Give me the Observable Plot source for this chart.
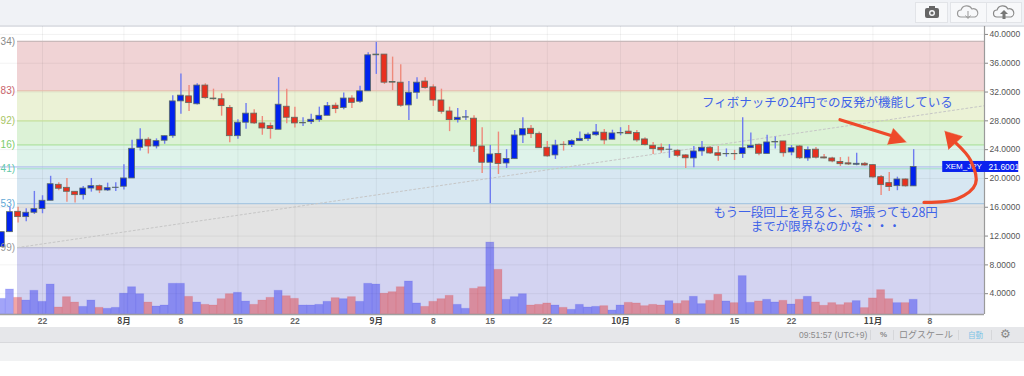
<!DOCTYPE html>
<html><head><meta charset="utf-8">
<script src="https://cdn.jsdelivr.net/npm/d3@7"></script>
<script src="https://cdn.jsdelivr.net/npm/@observablehq/plot@0.6"></script>
<style>
html,body{margin:0;padding:0;background:#fff;}
#page{position:relative;width:1024px;height:376px;overflow:hidden;background:#fff;font-family:"Liberation Sans",sans-serif;}
#page>div{position:absolute;}
#chart{left:0;top:0;}
#chart svg{display:block;background:transparent;}
.btn{top:2px;height:19px;background:#f7f8fa;border:1px solid #e2e4e8;box-sizing:content-box;}
.st{top:329px;font-size:8.5px;line-height:12px;color:#8a8a8a;white-space:nowrap;}
.sep{top:330px;width:1px;height:10px;background:#d6d7da;}
</style></head>
<body><div id="page">
<div style="left:0;top:0;width:1024px;height:25px;background:#f0f2f6"></div>
<div style="left:0;top:25px;width:1024px;height:2px;background:#dfe1e6"></div>
<div style="left:0;top:327px;width:1024px;height:15px;background:#e6e7ea;border-bottom:1px solid #d8d9dc"></div>
<div style="left:0;top:343px;width:1024px;height:18px;background:#f1f2f3"></div>
<div class="btn" style="left:915px;width:31px"><svg width="31" height="19"><rect x="9" y="5" width="14" height="10" rx="2" fill="#666"/><rect x="13" y="3" width="6" height="3" fill="#666"/><circle cx="16" cy="10" r="3" fill="#f7f8fa"/><circle cx="16" cy="10" r="1.6" fill="#666"/></svg></div>
<div class="btn" style="left:950px;width:35px"><svg width="35" height="19"><path d="M10 14a3.5 3.5 0 0 1 0-7a6 6 0 0 1 11-1a4 4 0 0 1 3 8z" fill="none" stroke="#999" stroke-width="1.2"/><path d="M17 8v7m-2.5-2.5l2.5 3l2.5-3" fill="none" stroke="#999"/></svg></div>
<div class="btn" style="left:986px;width:34px"><svg width="34" height="19"><path d="M10 14a3.5 3.5 0 0 1 0-7a6 6 0 0 1 11-1a4 4 0 0 1 3 8z" fill="none" stroke="#888" stroke-width="1.2"/><path d="M17 7l-4 4h2.5v5h3v-5h2.5z" fill="#777"/></svg></div>
<div id="chart"></div>
<div class="st" style="left:799px;">09:51:57 (UTC+9)</div>
<div class="sep" style="left:870px"></div>
<div class="st" style="left:880px;font-size:8px;font-weight:bold">%</div>
<div class="sep" style="left:893px"></div>
<div class="st" style="left:894px;width:64px;text-align:center;font-size:9px;font-family:'Noto Sans CJK JP';">ログスケール</div>
<div class="sep" style="left:958px"></div>
<div class="st" style="left:968px;font-size:7.5px;color:#7cc4e6;font-family:'Noto Sans CJK JP';">自動</div>
<div class="sep" style="left:991px"></div>
<div class="st" style="left:1000px;top:328px;font-size:12px;font-family:'DejaVu Sans';color:#888">⚙</div>
</div>
<script>
const firstDay = -5; // days counted from 22 Jul
const opens = [10.46,12.54,15.37,14.63,15.24,15.74,16.9,19.12,18.7,18.15,17.68,18.6,18.93,18.33,18.68,18.85,20.0,24.26,25.38,24.44,25.24,25.87,30.7,31.4,30.3,32.9,31.1,31.0,29.8,25.87,27.74,29.0,27.64,27.27,26.76,29.96,28.43,27.65,27.82,28.1,28.7,30.1,29.77,31.1,30.65,32.1,37.1,37.2,33.4,33.3,30.14,31.9,33.45,32.65,30.83,29.3,28.1,28.45,28.3,24.44,22.18,23.4,22.08,22.68,25.97,26.9,26.2,24.27,23.2,24.68,24.63,25.18,25.46,26.0,26.35,25.38,26.25,26.5,26.3,25.42,24.54,24.26,23.98,23.85,23.2,22.78,23.75,24.26,23.5,23.36,23.4,23.38,24.2,24.68,23.4,25.0,25.14,23.6,24.44,22.78,24,22.92,22.78,22.3,22.1,21.9,22.04,21.85,20.18,19.35,18.93,19.86,18.9];
const closes = [12.54,15.32,14.63,15.24,15.74,16.9,19.2,18.57,18.15,17.68,18.6,18.93,18.33,18.65,18.72,20.0,24.12,25.38,24.44,25.18,25.87,30.7,31.5,30.46,32.9,31.15,31.0,30.04,25.87,27.74,29.0,27.64,26.94,26.85,30.24,28.43,27.64,27.7,28.15,28.7,30.04,29.63,31.1,30.5,32.1,37.1,37.2,33.3,33.3,30.1,31.9,33.3,32.55,30.83,29.26,28.1,28.43,28.5,24.44,22.18,23.33,22.0,22.7,25.97,26.85,26.15,24.2,23.06,24.58,24.65,25.18,25.5,26.07,26.4,25.28,26.25,26.3,26.15,25.28,24.63,24.07,23.9,24.0,23.15,22.8,23.75,24.26,23.47,23.15,23.4,23.36,24.2,24.54,23.43,25.0,25.05,23.5,24.2,22.8,23.94,22.88,22.78,22.36,21.98,21.94,22.04,21.8,20.14,19.07,18.8,19.86,18.9,21.6];
const highs = [12.54,16.0,16.0,15.8,18.2,17.6,20.3,19.4,20.0,18.2,18.9,20.0,19.1,19.35,19.4,21.9,25.3,26.9,25.65,25.5,25.9,31.5,34.5,32.9,33.15,33.15,32.4,31.75,30.14,28.15,30.4,29.55,28.6,27.7,34.0,32.4,29.9,28.43,28.93,29.9,30.55,30.46,31.85,31.5,32.8,37.45,38.9,37.2,36.85,35.8,33.45,34.0,34.0,33.0,32.4,29.9,29.7,29.45,28.7,27.05,24.6,26.44,24.0,26.67,28.43,27.35,26.44,25.14,25.3,25.1,25.38,26.44,26.3,27.5,26.8,26.7,27.05,27.35,26.67,25.65,25.0,24.8,24.7,24.0,23.3,24.44,25.14,24.44,24.44,24.1,23.9,28.43,26.3,24.8,26.0,25.74,25.14,24.58,24.58,24.36,24.3,23.33,22.96,22.9,22.96,23.5,22.2,21.9,20.4,20.83,20.18,19.95,24.0];
const lows = [10.46,12.5,13.8,14.0,15.0,15.1,16.9,18.3,16.7,16.6,17.0,18.1,17.9,18.2,18.2,18.4,20.0,23.8,23.4,24.1,24.75,25.6,28.9,29.3,30.2,31.0,30.8,28.65,24.96,25.46,26.85,27.5,26.0,25.46,26.76,27.6,27.0,27.2,27.5,27.8,28.7,29.0,29.55,29.7,30.45,32.1,34.45,33.05,32.2,29.9,28.05,31.0,32.4,30.0,28.93,26.5,27.7,28.05,23.6,20.7,16.5,20.55,21.4,22.68,24.86,25.56,24.2,22.96,22.64,23.8,24.3,25.14,25.14,25.87,24.68,25.38,25.93,26.15,25.04,24.5,23.33,23.5,22.8,22.9,21.4,21.5,23.1,23.33,22.4,22.96,22.5,22.78,24.2,23.15,23.4,24.1,22.96,23.15,22.64,22.4,22.7,22.7,22.18,21.67,21.8,21.76,21.7,20.04,17.64,18.2,18.3,18.8,18.9];
const volumes = [3.28,4.58,3.42,3.05,4.4,2.87,5.27,2.08,3.52,2.77,2.17,3.05,2.03,1.9,2.03,4.0,4.9,3.93,2.77,2.22,2.36,5.37,5.37,3.56,2.77,2.45,2.36,3.24,3.93,4.12,2.91,2.45,3.05,3.42,4.4,3.65,3.28,2.36,2.36,2.45,2.87,3.38,3.24,3.52,2.87,5.37,5.27,4.0,4.21,4.9,5.69,2.64,2.17,2.87,3.24,3.7,2.45,1.9,4.67,4.9,11.1,7.31,3.15,3.52,3.93,2.36,2.45,2.64,2.36,2.03,1.76,2.45,2.08,2.17,2.27,1.66,2.36,2.73,2.64,2.27,2.45,2.36,2.96,2.59,2.97,3.57,2.55,3.01,3.85,2.92,2.69,6.44,2.73,2.92,3.15,2.78,3.01,2.5,3.15,3.57,2.78,2.32,2.69,2.41,2.69,2.97,2.0,3.34,4.49,3.24,2.69,2.69,3.15];
const tickDays = [0,17,24,31,48,55,62,78,85,92,109];
const tickLabels = ["22","8","15","22","8","15","22","8","15","22","8"];
const monthDays = [10,41,71,102];
const monthLabels = ["8月","9月","10月","11月"];
const priceTicks = [4,8,12,16,20,24,28,32,36,40];
const fibLevels = [39.03,32.18,28.0,24.65,21.35,16.5,10.38,1.11];
const fibFills = ["#f0d3d5","#ebf2d6","#dcf2d6","#def3ea","#d7e7f2","#e3e3e3","#d3d3f1"];
const fibLines = ["#c9b9ba","#e6b5a8","#c8e29c","#aee29c","#a2e0c8","#a9c8e2","#b4b4cc"];
const fibNames = ["34)","83)","92)","16)","41)","53)","99)"];
const fibNameColors = ["#8a8a8a","#c9636b","#a8c664","#7ccb6b","#63c9a9","#5fa8d6","#999999"];
const fibStart = -3.07, xMin = -5.16, xMax = 115.7, yMin = 1.11, yMax = 41.1;
const lastPrice = 21.6;
const trendDays = [-3.07,115.7], trendValues = [10.4,30.1];
const arrow1Days = [97.95,104.6], arrow1Values = [28.15,25.83];
const head1Days = [106.1,104.5,103.8], head1Values = [25.04,26.94,24.72];
const arrow2Days = [108.27,112.37,114.6,114,112.2], arrow2Values = [16.67,17.18,19.26,22.5,24.9];
const head2Days = [110.8,113,111.27], head2Values = [26.57,25.83,24.03];
const notes = ["フィボナッチの24円での反発が機能している","もう一段回上を見ると、頑張っても28円\nまでが限界なのかな・・・"];
const noteDays = [96.4,96.2], noteValues = [30.6,14.28];

const BLUE="#0022ee", RED="#e8301f", ARROW="#ee4a2a";
const candles = opens.map((o,i)=>({d:firstDay+i,o,c:closes[i],h:highs[i],l:lows[i],v:volumes[i],up:closes[i]>=opens[i]}));
const zones = fibFills.map((f,i)=>({top:fibLevels[i],bot:fibLevels[i+1],fill:f,line:fibLines[i],name:fibNames[i],nc:fibNameColors[i]}));
const pts=(a,b)=>a.map((x,i)=>({x,y:b[i]}));
const jp='"Noto Sans CJK JP",sans-serif';
const chart = Plot.plot({
  width:1024,height:376,marginLeft:0,marginRight:40,marginTop:26,marginBottom:62,
  style:{background:"transparent",fontFamily:"Liberation Sans, sans-serif",overflow:"visible"},
  x:{domain:[xMin,xMax],axis:null},
  y:{domain:[yMin,yMax],axis:null},
  marks:[
    Plot.rect(zones,{x1:()=>fibStart,x2:()=>xMax,y1:"bot",y2:"top",fill:d=>d.fill}),
    Plot.gridX([...tickDays,...monthDays],{stroke:"#000",strokeOpacity:0.05}),
    Plot.gridY(priceTicks,{stroke:"#000",strokeOpacity:0.05}),
    Plot.ruleY(zones,{x1:()=>fibStart,x2:()=>xMax,y:"top",stroke:d=>d.line,strokeWidth:1.2}),
    Plot.ruleY([lastPrice],{x1:xMin,x2:xMax,stroke:"#a9b4ee",strokeWidth:1}),
    Plot.rect(candles,{x1:d=>d.d-0.49,x2:d=>d.d+0.49,y1:()=>yMin,y2:"v",fill:d=>d.up?"#2226ee":"#e02a2a",fillOpacity:0.42,stroke:d=>d.up?"#2226ee":"#e02a2a",strokeOpacity:0.12}),
    Plot.line(pts(trendDays,trendValues),{x:"x",y:"y",stroke:"#c6c6c6",strokeDasharray:"2,2.5",strokeWidth:1}),
    Plot.ruleX(candles,{x:"d",y1:"l",y2:"h",stroke:d=>d.up?"#6f7cf0":"#ee8a7c",strokeWidth:1.4}),
    Plot.rect(candles,{x1:d=>d.d-0.36,x2:d=>d.d+0.36,y1:"o",y2:"c",fill:d=>d.up?BLUE:RED,stroke:"#5d6b63",strokeWidth:0.8}),
    Plot.text(zones,{x:()=>fibStart-0.3,y:"top",text:"name",fill:d=>d.nc,textAnchor:"end",fontSize:10}),
    Plot.ruleX([xMax],{stroke:"#9a9a9a",strokeWidth:1.2}),
    Plot.ruleY([yMin],{stroke:"#a0a0a0",strokeWidth:1.6}),
    Plot.axisY({ticks:priceTicks,anchor:"right",tickSize:3,tickPadding:2,tickFormat:d=>d.toFixed(4),fontSize:8.5,color:"#555",stroke:"#888"}),
    Plot.axisX({ticks:tickDays,tickFormat:d=>tickLabels[tickDays.indexOf(d)],anchor:"bottom",tickSize:0,tickPadding:3,fontSize:8.5,color:"#666",fontWeight:"bold",label:null}),
    Plot.axisX({ticks:monthDays,tickFormat:d=>monthLabels[monthDays.indexOf(d)],anchor:"bottom",tickSize:0,tickPadding:3,fontSize:8.5,color:"#444",fontWeight:"bold",label:null,fontFamily:jp}),
    Plot.rect([0],{x1:()=>110.57,x2:()=>119.9,y1:()=>20.83,y2:()=>22.36,fill:"#0a22ee",clip:false}),
    Plot.text(["XEM_JPY"],{x:()=>110.9,y:()=>lastPrice,text:d=>d,textAnchor:"start",fill:"#fff",fontSize:8}),
    Plot.text([lastPrice],{x:()=>116.2,y:()=>lastPrice,text:()=>"21.6001",textAnchor:"start",fill:"#fff",fontSize:8.5}),
    Plot.text(notes,{x:(d,i)=>noteDays[i],y:(d,i)=>noteValues[i],text:d=>d,fill:"#3f63e8",fontSize:12.5,lineHeight:1.144,fontFamily:jp}),
    Plot.line(pts(arrow1Days,arrow1Values),{x:"x",y:"y",stroke:ARROW,strokeWidth:3.2}),
    Plot.line(pts(head1Days,head1Values),{x:"x",y:"y",fill:ARROW,stroke:ARROW,strokeWidth:0.5}),
    Plot.line(pts(arrow2Days,arrow2Values),{x:"x",y:"y",stroke:ARROW,strokeWidth:3.2,curve:"catmull-rom"}),
    Plot.line(pts(head2Days,head2Values),{x:"x",y:"y",fill:ARROW,stroke:ARROW,strokeWidth:0.5})
  ]
});
document.getElementById("chart").append(chart);
</script>
</body></html>
